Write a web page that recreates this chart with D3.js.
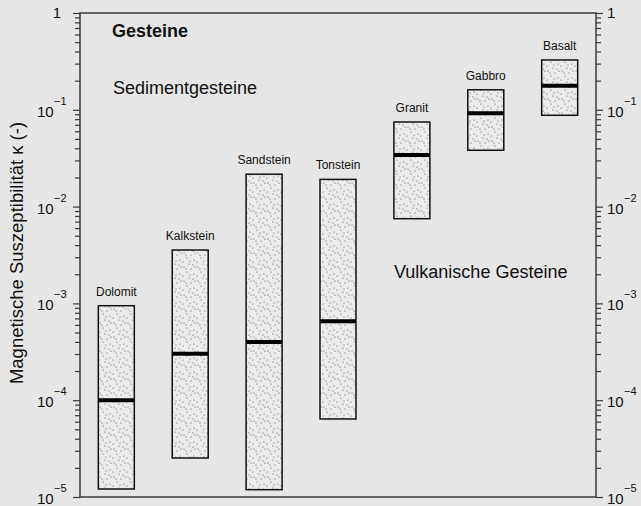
<!DOCTYPE html>
<html>
<head>
<meta charset="utf-8">
<script src="https://cdn.jsdelivr.net/npm/d3@7"></script>
<style>
  html, body { margin: 0; padding: 0; background: #e6e6e6; }
  svg { display: block; font-family: "Liberation Sans", Arial, sans-serif; }
</style>
</head>
<body>
<div id="chart"></div>
<script>
// Rock types and their range of magnetic susceptibility
var rocks = ["Dolomit", "Kalkstein", "Sandstein", "Tonstein", "Granit", "Gabbro", "Basalt"];
var kMin = [1.21e-5, 2.53e-5, 1.19e-5, 6.4e-5, 7.5e-3, 3.82e-2, 8.78e-2];
var kMax = [9.46e-4, 3.56e-3, 2.16e-2, 1.91e-2, 7.48e-2, 0.161, 0.327];
var kMed = [1.0e-4, 3.02e-4, 3.99e-4, 6.53e-4, 3.41e-2, 0.092, 0.1775];
var decadeExp = [-5, -4, -3, -2, -1, 0];

var w = 641;
var h = 506;
var margin = {top: 13, right: 45, bottom: 9, left: 80};

var svg = d3.select('#chart').append('svg')
  .attr('width', w)
  .attr('height', h);

svg.append('rect').attr('width', w).attr('height', h).attr('fill', '#e6e6e6');

// stipple texture for the boxes
var defs = svg.append('defs');
var pat = defs.append('pattern')
  .attr('id', 'stipple')
  .attr('patternUnits', 'userSpaceOnUse')
  .attr('width', 14).attr('height', 14);
pat.append('rect').attr('width', 14).attr('height', 14).attr('fill', '#ececec');
var dots = [[2, 1], [9, 3], [5, 6], [12, 8], [1, 10], [7, 12], [11, 13], [4, 3], [13, 1], [8, 9]];
pat.selectAll('circle').data(dots).enter().append('circle')
  .attr('cx', function(d) { return d[0]; })
  .attr('cy', function(d) { return d[1]; })
  .attr('r', 0.6)
  .attr('fill', '#555');

var x = d3.scaleBand()
  .domain(rocks)
  .range([margin.left, w - margin.right])
  .paddingInner(0.513)
  .paddingOuter(0.248);

var y = d3.scaleLog()
  .domain([1e-5, 1])
  .range([h - margin.bottom, margin.top]);

var frameColor = '#3a3a3a';

// frame
svg.append('rect')
  .attr('x', margin.left)
  .attr('y', margin.top)
  .attr('width', w - margin.right - margin.left)
  .attr('height', h - margin.bottom - margin.top)
  .attr('fill', 'none')
  .attr('stroke', frameColor)
  .attr('stroke-width', 1.5);

var minorTicks = y.ticks().filter(function(t) {
  return Math.abs(Math.log10(t) - Math.round(Math.log10(t))) > 1e-6;
});
var majorTicks = decadeExp.map(function(e) { return Math.pow(10, e); });

function drawAxis(side) {
  var xPos = side == 'left' ? margin.left : w - margin.right;
  var mk = side == 'left' ? d3.axisLeft : d3.axisRight;

  var minor = svg.append('g')
    .attr('transform', 'translate(' + xPos + ',0)')
    .call(mk(y).tickValues(minorTicks).tickSize(5).tickFormat(''));
  var major = svg.append('g')
    .attr('transform', 'translate(' + xPos + ',0)')
    .call(mk(y).tickValues(majorTicks).tickSize(7).tickFormat(''));
  [minor, major].forEach(function(g) {
    g.select('.domain').remove();
    g.selectAll('line').attr('stroke', frameColor).attr('stroke-width', 1.2);
  });

  // labels 10^n
  var lab = svg.append('g');
  decadeExp.forEach(function(e) {
    var yy = y(Math.pow(10, e));
    if (e == 0) {
      lab.append('text')
        .attr('x', side == 'left' ? 61 : 607)
        .attr('y', yy + 5)
        .attr('text-anchor', side == 'left' ? 'end' : 'start')
        .attr('font-size', 15)
        .attr('fill', '#111')
        .text('1');
      return;
    }
    var base = side == 'left' ? 37 : 607;
    lab.append('text')
      .attr('x', base)
      .attr('y', yy + 7)
      .attr('font-size', 15)
      .attr('fill', '#111')
      .text('10');
    lab.append('text')
      .attr('x', base + 17)
      .attr('y', yy - 5)
      .attr('font-size', 11)
      .attr('fill', '#111')
      .text('\u2212' + Math.abs(e));
  });
}
drawAxis('left');
drawAxis('right');

// boxes
var bars = svg.append('g').selectAll('g')
  .data(rocks)
  .enter().append('g');

bars.append('rect')
  .attr('x', function(d) { return x(d); })
  .attr('y', function(d, i) { return y(kMax[i]); })
  .attr('width', x.bandwidth())
  .attr('height', function(d, i) { return y(kMin[i]) - y(kMax[i]); })
  .attr('fill', 'url(#stipple)')
  .attr('stroke', '#111')
  .attr('stroke-width', 1.5);

bars.append('line')
  .attr('x1', function(d) { return x(d); })
  .attr('x2', function(d) { return x(d) + x.bandwidth(); })
  .attr('y1', function(d, i) { return y(kMed[i]); })
  .attr('y2', function(d, i) { return y(kMed[i]); })
  .attr('stroke', '#000')
  .attr('stroke-width', 4);

bars.append('text')
  .attr('x', function(d) { return x(d) + x.bandwidth() / 2; })
  .attr('y', function(d, i) { return y(kMax[i]) - 10; })
  .attr('text-anchor', 'middle')
  .attr('font-size', 12)
  .attr('fill', '#111')
  .text(function(d) { return d; });

// annotations
svg.append('text')
  .attr('x', 112).attr('y', 37)
  .attr('font-size', 18).attr('font-weight', 'bold').attr('fill', '#111')
  .text('Gesteine');
svg.append('text')
  .attr('x', 113).attr('y', 94)
  .attr('font-size', 18).attr('fill', '#111')
  .text('Sedimentgesteine');
svg.append('text')
  .attr('x', 394).attr('y', 278)
  .attr('font-size', 18).attr('fill', '#111')
  .text('Vulkanische Gesteine');

// y axis title
svg.append('text')
  .attr('transform', 'translate(23,253) rotate(-90)')
  .attr('text-anchor', 'middle')
  .attr('font-size', 18.5)
  .attr('fill', '#111')
  .text('Magnetische Suszeptibilität \u03ba (-)');
</script>
</body>
</html>
